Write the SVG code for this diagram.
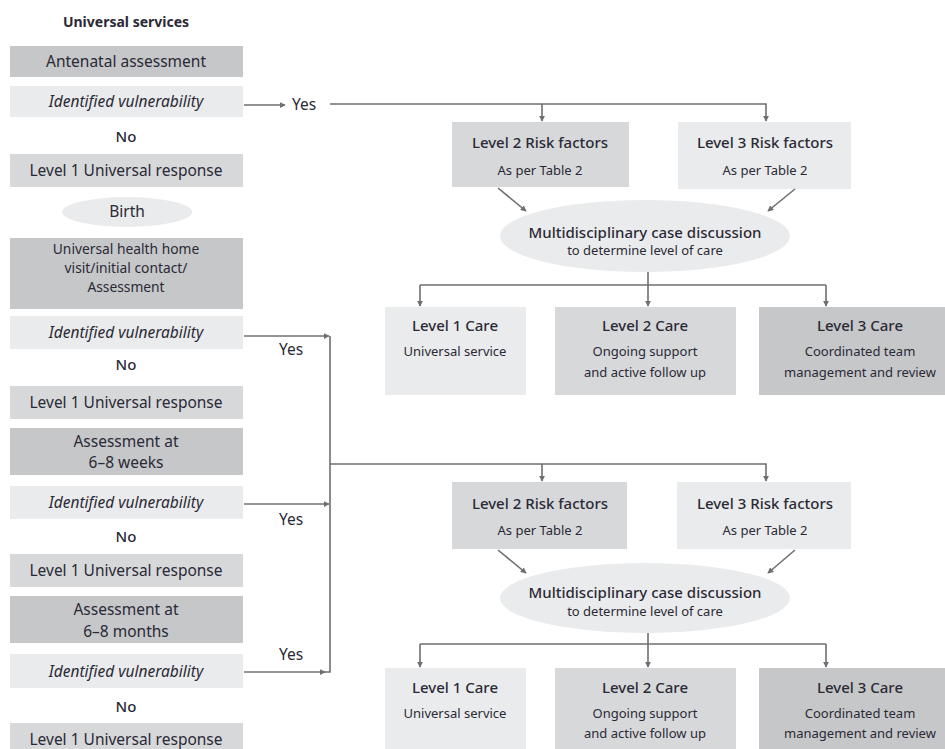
<svg xmlns="http://www.w3.org/2000/svg" width="945" height="749" viewBox="0 0 945 749">
<defs>
<style>
text{font-family:"Noto Sans","Open Sans","DejaVu Sans",sans-serif;fill:#2a2a36;text-anchor:middle}
.t{font-size:15.5px}
.t3{font-size:13.8px}
.i{font-size:15.5px;font-style:italic}
.b{font-size:14px;font-weight:bold}
.n{font-size:15px;font-weight:500}
.s{font-size:13px}
.h{font-size:15px;font-weight:500}
.dark{fill:#c6c7c9}
.mid{fill:#d7d8da}
.light{fill:#eaebec}
.ln{fill:none;stroke:#6e6f72;stroke-width:1.6}
</style>
<marker id="ah" viewBox="0 0 8 8" refX="7" refY="4" markerWidth="6" markerHeight="6" orient="auto" markerUnits="userSpaceOnUse">
<path d="M0,0 L8,4 L0,8 z" fill="#6e6f72"/>
</marker>
</defs>
<rect width="945" height="749" fill="#ffffff"/>

<g id="left-column">
<text id="title" x="126" y="27" class="b">Universal services</text>
<g id="antenatal"><rect x="10" y="46" width="233" height="31" class="dark"/><text x="126" y="67" class="t">Antenatal assessment</text></g>
<g id="iv1"><rect x="10" y="86" width="233" height="31" class="light"/><text x="126" y="107" class="i">Identified vulnerability</text></g>
<text x="126" y="142" class="n">No</text>
<g id="l1r1"><rect x="10" y="154" width="233" height="33" class="mid"/><text x="126" y="176" class="t">Level 1 Universal response</text></g>
<g id="birth"><ellipse cx="127" cy="212" rx="65" ry="15" class="light"/><text x="127" y="217" class="t">Birth</text></g>
<g id="homevisit"><rect x="10" y="238" width="233" height="71" class="dark"/>
<text x="126" y="254" class="t3">Universal health home</text>
<text x="126" y="273" class="t3">visit/initial contact/</text>
<text x="126" y="292" class="t3">Assessment</text></g>
<g id="iv2"><rect x="10" y="316" width="233" height="33" class="light"/><text x="126" y="338" class="i">Identified vulnerability</text></g>
<text x="126" y="370" class="n">No</text>
<g id="l1r2"><rect x="10" y="386" width="233" height="33" class="mid"/><text x="126" y="408" class="t">Level 1 Universal response</text></g>
<g id="weeks"><rect x="10" y="428" width="233" height="47" class="dark"/>
<text x="126" y="447" class="t">Assessment at</text>
<text x="126" y="468" class="t">6–8 weeks</text></g>
<g id="iv3"><rect x="10" y="486" width="233" height="33" class="light"/><text x="126" y="508" class="i">Identified vulnerability</text></g>
<text x="126" y="542" class="n">No</text>
<g id="l1r3"><rect x="10" y="554" width="233" height="33" class="mid"/><text x="126" y="576" class="t">Level 1 Universal response</text></g>
<g id="months"><rect x="10" y="596" width="233" height="47" class="dark"/>
<text x="126" y="615" class="t">Assessment at</text>
<text x="126" y="637" class="t">6–8 months</text></g>
<g id="iv4"><rect x="10" y="654" width="233" height="34" class="light"/><text x="126" y="677" class="i">Identified vulnerability</text></g>
<text x="126" y="712" class="n">No</text>
<g id="l1r4"><rect x="10" y="723" width="233" height="34" class="mid"/><text x="126" y="745" class="t">Level 1 Universal response</text></g>
</g>

<g id="yes-labels">
<text x="304" y="110" class="t">Yes</text>
<text x="291" y="355" class="t">Yes</text>
<text x="291" y="525" class="t">Yes</text>
<text x="291" y="660" class="t">Yes</text>
</g>

<g id="top-branch">
<g id="t-l2risk"><rect x="452" y="122" width="177" height="65" class="mid"/>
<text x="540" y="148" class="h">Level 2 Risk factors</text>
<text x="540" y="175" class="s">As per Table 2</text></g>
<g id="t-l3risk"><rect x="678" y="122" width="173" height="67" class="light"/>
<text x="765" y="148" class="h">Level 3 Risk factors</text>
<text x="765" y="175" class="s">As per Table 2</text></g>
<g id="t-mdt"><ellipse cx="645" cy="236" rx="145" ry="36" class="light"/>
<text x="645" y="238" class="h">Multidisciplinary case discussion</text>
<text x="645" y="255" class="s">to determine level of care</text></g>
<g id="t-care1"><rect x="385" y="307" width="141" height="88" class="light"/>
<text x="455" y="331" class="h">Level 1 Care</text>
<text x="455" y="356" class="s">Universal service</text></g>
<g id="t-care2"><rect x="555" y="307" width="181" height="88" class="mid"/>
<text x="645" y="331" class="h">Level 2 Care</text>
<text x="645" y="356" class="s">Ongoing support</text>
<text x="645" y="377" class="s">and active follow up</text></g>
<g id="t-care3"><rect x="759" y="307" width="190" height="88" class="dark"/>
<text x="860" y="331" class="h">Level 3 Care</text>
<text x="860" y="356" class="s">Coordinated team</text>
<text x="860" y="377" class="s">management and review</text></g>
</g>

<g id="bottom-branch">
<g id="b-l2risk"><rect x="452" y="482" width="175" height="67" class="mid"/>
<text x="540" y="509" class="h">Level 2 Risk factors</text>
<text x="540" y="535" class="s">As per Table 2</text></g>
<g id="b-l3risk"><rect x="677" y="482" width="174" height="67" class="light"/>
<text x="765" y="509" class="h">Level 3 Risk factors</text>
<text x="765" y="535" class="s">As per Table 2</text></g>
<g id="b-mdt"><ellipse cx="645" cy="598" rx="145" ry="35" class="light"/>
<text x="645" y="598" class="h">Multidisciplinary case discussion</text>
<text x="645" y="616" class="s">to determine level of care</text></g>
<g id="b-care1"><rect x="385" y="668" width="141" height="90" class="light"/>
<text x="455" y="693" class="h">Level 1 Care</text>
<text x="455" y="718" class="s">Universal service</text></g>
<g id="b-care2"><rect x="555" y="668" width="181" height="90" class="mid"/>
<text x="645" y="693" class="h">Level 2 Care</text>
<text x="645" y="718" class="s">Ongoing support</text>
<text x="645" y="738" class="s">and active follow up</text></g>
<g id="b-care3"><rect x="759" y="668" width="190" height="90" class="dark"/>
<text x="860" y="693" class="h">Level 3 Care</text>
<text x="860" y="718" class="s">Coordinated team</text>
<text x="860" y="738" class="s">management and review</text></g>
</g>

<g id="connectors">
<path class="ln" d="M244,105 H285" marker-end="url(#ah)"/>
<path class="ln" d="M330,104 H766 V121" marker-end="url(#ah)"/>
<path class="ln" d="M542,104 V121" marker-end="url(#ah)"/>
<path class="ln" d="M498,188 L526,211" marker-end="url(#ah)"/>
<path class="ln" d="M795,189 L768,211" marker-end="url(#ah)"/>
<path class="ln" d="M648,272 V285"/>
<path class="ln" d="M420,285 H826"/>
<path class="ln" d="M420,285 V306" marker-end="url(#ah)"/>
<path class="ln" d="M648,285 V306" marker-end="url(#ah)"/>
<path class="ln" d="M826,285 V306" marker-end="url(#ah)"/>

<path class="ln" d="M244,336 H329" marker-end="url(#ah)"/>
<path class="ln" d="M244,504 H329" marker-end="url(#ah)"/>
<path class="ln" d="M244,672 H325" marker-end="url(#ah)"/>
<path class="ln" d="M330,336 V672 H324"/>
<path class="ln" d="M330,464 H766 V481" marker-end="url(#ah)"/>
<path class="ln" d="M542,464 V481" marker-end="url(#ah)"/>
<path class="ln" d="M498,550 L526,573" marker-end="url(#ah)"/>
<path class="ln" d="M795,550 L768,573" marker-end="url(#ah)"/>
<path class="ln" d="M648,633 V644"/>
<path class="ln" d="M420,644 H826"/>
<path class="ln" d="M420,644 V667" marker-end="url(#ah)"/>
<path class="ln" d="M648,644 V667" marker-end="url(#ah)"/>
<path class="ln" d="M826,644 V667" marker-end="url(#ah)"/>
</g>
</svg>
